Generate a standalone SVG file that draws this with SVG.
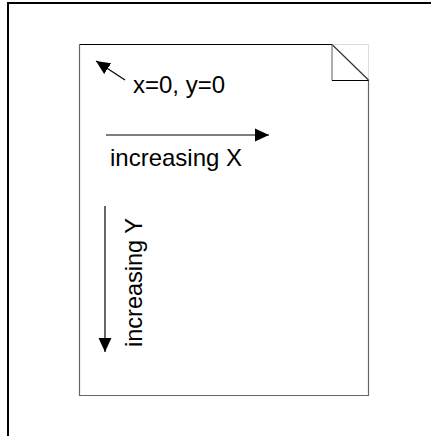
<svg xmlns="http://www.w3.org/2000/svg" width="431" height="436" viewBox="0 0 431 436">
<defs>
<style>
.lbl{font-family:"Liberation Sans",Arial,sans-serif;font-size:24px;fill:#000}
.ln{stroke:#000;stroke-width:1.2;fill:none}
</style>
<marker id="ah" markerWidth="14" markerHeight="14" viewBox="0 0 13 12" refX="13" refY="6" orient="auto" markerUnits="userSpaceOnUse">
<path d="M0,0 L13,6 L0,12 Z" fill="#000"/>
</marker>
</defs>
<rect width="431" height="436" fill="#fff"/>
<g id="frame">
<path d="M8,436 V3 H431" fill="none" stroke="#000" stroke-width="2"/>
</g>
<g id="page">
<path d="M79.5,44.5 H332 L368,80 V395.5 H79.5 Z" fill="#fff" stroke="none"/>
<path d="M332,44.5 H368.5 V80" fill="none" stroke="#ddd" stroke-width="1"/>
<path d="M79.5,44.5 H332" fill="none" stroke="#000" stroke-width="1"/>
<path d="M79.5,44.5 V395.5 H368.5 V80" fill="none" stroke="#666" stroke-width="1.2"/>
<path d="M332,44.5 L368.5,80" fill="none" stroke="#333" stroke-width="1.2"/>
<path d="M332,44.5 V80.5" fill="none" stroke="#777" stroke-width="1.2"/>
<path d="M332,80.5 H368.5" fill="none" stroke="#000" stroke-width="1"/>
</g>
<g id="connectors">
<line class="ln" x1="125" y1="80" x2="96" y2="61" marker-end="url(#ah)"/>
<line class="ln" x1="106" y1="135" x2="269" y2="135" marker-end="url(#ah)"/>
<line class="ln" x1="105" y1="206" x2="105" y2="352" marker-end="url(#ah)"/>
</g>
<g id="label-origin">
<text class="lbl" x="133" y="93">x=0, y=0</text>
</g>
<g id="label-x">
<text class="lbl" x="110" y="166">increasing X</text>
</g>
<g id="label-y">
<text class="lbl" transform="translate(142,347) rotate(-90)" x="0" y="0" textLength="129" lengthAdjust="spacingAndGlyphs">increasing Y</text>
</g>
</svg>
